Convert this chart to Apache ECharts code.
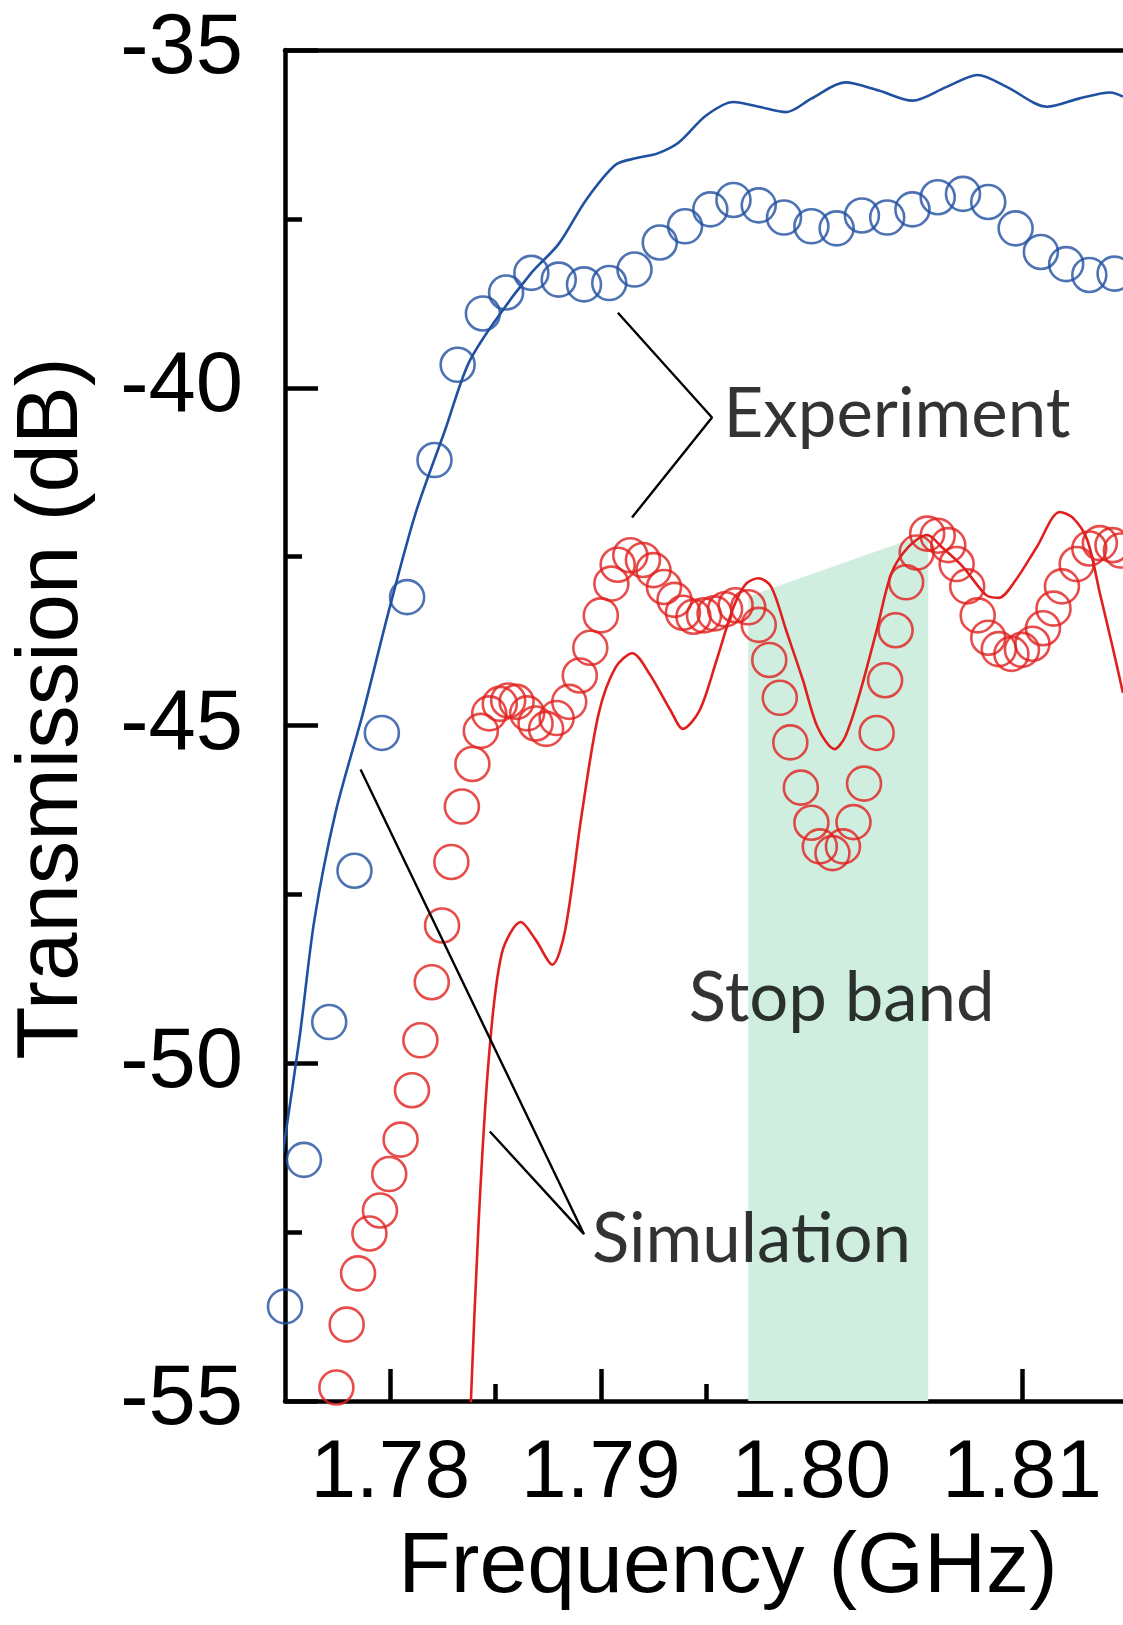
<!DOCTYPE html>
<html>
<head>
<meta charset="utf-8">
<script src="https://cdn.jsdelivr.net/npm/echarts@6/dist/echarts.min.js"></script>
<style>
html,body{margin:0;padding:0;background:#fff;}
#chart{width:1123px;height:1625px;}
</style>
</head>
<body>
<div id="chart"></div>
<script>
// ---- data (frequency GHz, transmission dB) ----
const expBlue = [[1.7750,-53.6],[1.7759,-51.43],[1.7771,-49.39],[1.7783,-47.15],[1.7796,-45.11],[1.7808,-43.10],[1.7821,-41.07],[1.7832,-39.66],[1.7844,-38.90],[1.7855,-38.59],[1.7867,-38.30],[1.7880,-38.40],[1.7892,-38.47],[1.7904,-38.45],[1.7916,-38.25],[1.7928,-37.85],[1.7940,-37.61],[1.7952,-37.36],[1.7963,-37.22],[1.7975,-37.30],[1.7987,-37.48],[1.8000,-37.61],[1.8012,-37.64],[1.8024,-37.45],[1.8036,-37.48],[1.8048,-37.36],[1.8060,-37.18],[1.8072,-37.13],[1.8084,-37.25],[1.8097,-37.64],[1.8109,-37.99],[1.8121,-38.17],[1.8132,-38.33],[1.8144,-38.31]];
const simBlue = [[1.7749,-51.32],[1.7757,-49.6],[1.7764,-47.87],[1.7774,-46.29],[1.7787,-44.82],[1.7799,-43.34],[1.7812,-41.86],[1.7826,-40.63],[1.7837,-39.65],[1.7850,-39.00],[1.7867,-38.30],[1.7880,-37.87],[1.7893,-37.22],[1.7907,-36.70],[1.7917,-36.60],[1.7927,-36.53],[1.7937,-36.37],[1.7950,-35.97],[1.7963,-35.77],[1.7975,-35.84],[1.7988,-35.92],[1.8000,-35.72],[1.8016,-35.48],[1.8032,-35.60],[1.8048,-35.75],[1.8064,-35.55],[1.8079,-35.37],[1.8093,-35.55],[1.8112,-35.84],[1.8127,-35.72],[1.8142,-35.63],[1.8148,-35.69]];
const expRed = [[1.77744,-54.80],[1.77793,-53.87],[1.77847,-53.11],[1.77901,-52.52],[1.77951,-52.18],[1.77995,-51.64],[1.78049,-51.13],[1.78103,-50.40],[1.78143,-49.66],[1.78197,-48.80],[1.78246,-47.96],[1.7829,-47.02],[1.7834,-46.20],[1.7839,-45.57],[1.7843,-45.08],[1.7847,-44.82],[1.7852,-44.68],[1.7856,-44.63],[1.7860,-44.65],[1.7865,-44.82],[1.7869,-44.97],[1.7874,-45.05],[1.7879,-44.89],[1.7885,-44.65],[1.7890,-44.26],[1.7895,-43.85],[1.7900,-43.37],[1.7905,-42.90],[1.7908,-42.62],[1.7914,-42.48],[1.7920,-42.55],[1.7925,-42.70],[1.7930,-42.95],[1.7935,-43.14],[1.7939,-43.33],[1.7944,-43.39],[1.7949,-43.37],[1.7954,-43.34],[1.7959,-43.28],[1.7964,-43.22],[1.7970,-43.25],[1.7975,-43.51],[1.7980,-44.03],[1.7985,-44.59],[1.7990,-45.25],[1.7995,-45.92],[1.8000,-46.44],[1.8004,-46.79],[1.8010,-46.89],[1.8015,-46.79],[1.8020,-46.43],[1.8025,-45.86],[1.8031,-45.11],[1.8035,-44.33],[1.8040,-43.59],[1.8045,-42.88],[1.8050,-42.44],[1.8055,-42.16],[1.8060,-42.19],[1.8065,-42.33],[1.8069,-42.61],[1.8074,-42.94],[1.8079,-43.37],[1.8084,-43.70],[1.8089,-43.87],[1.8095,-43.94],[1.8100,-43.88],[1.8105,-43.79],[1.8110,-43.56],[1.8115,-43.27],[1.8119,-42.94],[1.8126,-42.61],[1.8132,-42.38],[1.8137,-42.30],[1.8143,-42.33],[1.8147,-42.41]];
const simRed = [[1.78375,-55.6],[1.7842,-52.33],[1.7847,-49.85],[1.7853,-48.37],[1.7862,-47.91],[1.7869,-48.17],[1.7877,-48.54],[1.7883,-48.04],[1.7891,-46.30],[1.7899,-44.82],[1.7907,-44.14],[1.7915,-43.93],[1.7923,-44.23],[1.7933,-44.77],[1.7939,-45.05],[1.7947,-44.77],[1.7955,-44.03],[1.7963,-43.25],[1.7969,-42.90],[1.7975,-42.82],[1.7981,-42.95],[1.7988,-43.59],[1.7996,-44.33],[1.8003,-45.03],[1.8011,-45.35],[1.8016,-45.17],[1.8023,-44.52],[1.8031,-43.59],[1.8038,-42.75],[1.8046,-42.36],[1.8055,-42.18],[1.8062,-42.36],[1.8072,-42.65],[1.8083,-43.07],[1.8089,-43.11],[1.8097,-42.85],[1.8107,-42.36],[1.8118,-41.84],[1.8124,-41.92],[1.8131,-42.25],[1.8137,-43.04],[1.8143,-43.83],[1.8148,-44.52]];
const stopBand = [[1.7970,-43.09],[1.80555,-42.15]];
const expPointer = [[1.79081,-38.89],[1.79528,-40.44],[1.79148,-41.92]];
const simPointer = [[1.77859,-45.65],[1.78920,-52.53],[1.78473,-51.01]];
const textLabels = [
  {name:'Experiment', value:[1.79585,-40.40]},
  {name:'Stop band', value:[1.79420,-49.05]},
  {name:'Simulation', value:[1.78960,-52.62]}
];
const xMajorTicks = [1.78,1.79,1.80,1.81];
const xMinorTicks = [1.785,1.795,1.805];
const yTicks = [-55,-50,-45,-40,-35];

const BLUE = '#2050a0', RED = '#e0201e';
const chart = echarts.init(document.getElementById('chart'), null, {renderer:'canvas'});
const axisFont = 'Liberation Sans, Arial, sans-serif';
const AXW = 4.5;
chart.setOption({
  animation:false,
  backgroundColor:'#fff',
  grid:{left:285, top:50, right:0, bottom:224, containLabel:false},
  xAxis:[
    {type:'value', position:'bottom', min:1.775, max:1.8148, interval:0.005,
     axisLine:{show:true, onZero:false, lineStyle:{color:'#000', width:AXW}},
     axisTick:{show:true, inside:true, length:32, customValues:xMajorTicks, lineStyle:{color:'#000', width:AXW}},
     axisLabel:{show:true, customValues:xMajorTicks, margin:32, color:'#000', fontSize:82, fontFamily:axisFont,
       formatter:v=>Number(v).toFixed(2)},
     splitLine:{show:false},
     name:'Frequency (GHz)', nameLocation:'middle', nameGap:124,
     nameTextStyle:{color:'#000', fontSize:86, fontFamily:axisFont, padding:[0,0,0,48]}},
    {type:'value', position:'bottom', min:1.775, max:1.8148, interval:0.005,
     axisLine:{show:false},
     axisTick:{show:true, inside:true, length:17, customValues:xMinorTicks, lineStyle:{color:'#000', width:AXW}},
     axisLabel:{show:false}, splitLine:{show:false}},
    {type:'value', position:'top', min:1.775, max:1.8148, interval:0.005,
     axisLine:{show:true, onZero:false, lineStyle:{color:'#000', width:AXW}},
     axisTick:{show:false}, axisLabel:{show:false}, splitLine:{show:false}}
  ],
  yAxis:[
    {type:'value', min:-55, max:-35, interval:5,
     axisLine:{show:true, onZero:false, lineStyle:{color:'#000', width:AXW}},
     axisTick:{show:true, inside:true, length:33, lineStyle:{color:'#000', width:AXW}},
     minorTick:{show:true, splitNumber:2, length:17, lineStyle:{color:'#000', width:AXW}},
     axisLabel:{show:true, margin:42, color:'#000', fontSize:85, fontFamily:axisFont,
       customValues:yTicks, formatter:v=>String(v), verticalAlign:'middle', padding:[0,0,22,0]},
     splitLine:{show:false},
     name:'Transmission (dB)', nameLocation:'middle', nameGap:188, nameRotate:90,
     nameTextStyle:{color:'#000', fontSize:87, fontFamily:axisFont, padding:[0,0,0,34]}}
  ],
  series:[
    {type:'line', name:'stopband', data:stopBand, symbol:'none', silent:true, z:1,
     lineStyle:{width:0, opacity:0}, areaStyle:{color:'#d0eee0', opacity:1, origin:'start'}},
    {type:'line', name:'Simulation red', data:simRed, symbol:'none', smooth:0.3, z:3,
     lineStyle:{color:RED, width:2.6}},
    {type:'scatter', name:'Experiment red', data:expRed, symbol:'circle', symbolSize:34, z:4,
     itemStyle:{color:'rgba(0,0,0,0)', borderColor:RED, borderWidth:2.6}},
    {type:'line', name:'Simulation blue', data:simBlue, symbol:'none', smooth:0.3, z:3,
     lineStyle:{color:BLUE, width:2.6}},
    {type:'scatter', name:'Experiment blue', data:expBlue, symbol:'circle', symbolSize:34, z:4,
     itemStyle:{color:'rgba(0,0,0,0)', borderColor:BLUE, borderWidth:2.6}},
    {type:'line', name:'expPointer', data:expPointer, symbol:'none', z:5, lineStyle:{color:'#000', width:2.4}},
    {type:'line', name:'simPointer', data:simPointer, symbol:'none', z:5, lineStyle:{color:'#000', width:2.4}},
    {type:'scatter', name:'texts', data:textLabels, symbolSize:1, z:6, itemStyle:{color:'rgba(0,0,0,0)'},
     label:{show:true, position:[0,0], align:'left', verticalAlign:'middle', formatter:p=>p.name,
       color:'#000', fontSize:69, fontFamily:'Lato, Carlito, sans-serif'}}
  ]
});
</script>
</body>
</html>
